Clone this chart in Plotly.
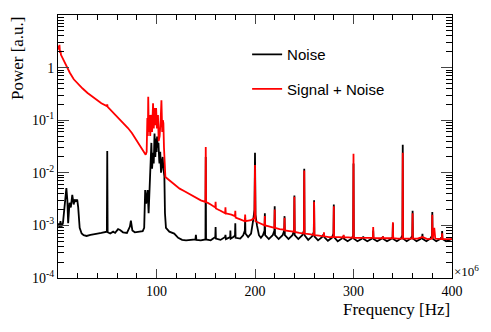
import plotly.graph_objects as go

# frequency in MHz (axis shows x10^6 Hz), power in a.u.
noise_freq = [
    0.5, 1.5, 2.5, 3.5, 5, 6.5, 8.5, 9.5, 10.3, 11.7, 13, 14.5, 15.9, 17, 18, 19.5, 20.5, 22,
    24, 26, 29, 33, 37, 40, 44, 47, 49.6, 50, 50.4, 53, 56, 58, 61, 63, 66, 70, 73, 74, 75.5,
    78, 82, 86, 87.5, 88.5, 89.5, 91, 92, 93, 94, 94.8, 95.5, 96.5, 97.2, 98, 98.8, 99.6,
    100.1, 100.6, 101.3, 102, 102.7, 103, 103.8, 104.6, 105.5, 106.3, 107, 108, 108.6, 109.6,
    113, 118, 122, 126, 130, 135, 139.5, 140, 140.5, 145, 149.7, 150, 150.3, 155, 158, 159.7,
    160, 160.3, 165, 168, 169.7, 170, 170.5, 174.8, 175, 175.3, 178, 179.7, 180, 180.3, 185,
    188, 189.7, 190, 190.3, 193, 196, 198, 199.5, 200, 200.5, 202, 204, 206, 208, 209.7, 210,
    210.3, 214, 218, 219.7, 220, 220.3, 224, 228, 229.7, 230, 230.3, 234, 238, 239.7, 240,
    240.3, 244, 248, 249.7, 250, 250.3, 254, 258, 259.7, 260, 260.3, 264, 268, 269.7, 270,
    270.3, 274, 278, 279.7, 280, 280.3, 284, 288, 289.7, 290, 290.3, 294, 298, 299.7, 300,
    300.3, 304, 308, 309.7, 310, 310.3, 314, 318, 319.7, 320, 320.3, 324, 328, 329.7, 330,
    330.3, 334, 338, 339.7, 340, 340.3, 344, 348, 349.7, 350, 350.3, 354, 358, 359.7, 360,
    360.3, 364, 368, 369.7, 370, 370.3, 374, 378, 379.7, 380, 380.3, 384, 388, 389.7, 390,
    390.3, 394, 398, 400,
]
noise_power = [
    0.0011, 0.0009, 0.0012, 0.00095, 0.0011, 0.002, 0.0051, 0.003, 0.0011, 0.0027, 0.0022,
    0.0038, 0.0025, 0.0031, 0.0029, 0.0031, 0.0022, 0.0009,
    0.0007, 0.00065, 0.00063, 0.00066, 0.00069, 0.0007, 0.00072, 0.00074, 0.00076, 0.026,
    0.00074, 0.0007, 0.00076, 0.00072, 0.00085, 0.00082, 0.00074, 0.00072, 0.00095, 0.00123,
    0.0008, 0.00074, 0.00076, 0.00078, 0.0009, 0.0047, 0.0026, 0.0047, 0.0017, 0.0072, 0.03,
    0.037, 0.012, 0.024, 0.015, 0.056, 0.02, 0.045, 0.025, 0.049, 0.03, 0.037, 0.018, 0.015,
    0.025, 0.01, 0.016, 0.02, 0.012, 0.0085, 0.0017, 0.0009,
    0.00076, 0.0007, 0.00058, 0.00053, 0.00052, 0.00053, 0.00054, 0.00066, 0.00053, 0.00052,
    0.00054, 0.02, 0.00054, 0.00052, 0.00058, 0.0006,
    0.00093, 0.00056, 0.00053, 0.00058, 0.0006, 0.00066, 0.00055, 0.0006, 0.0008, 0.00056,
    0.0006, 0.00065, 0.0011, 0.00058, 0.00056,
    0.00065, 0.0008, 0.0014, 0.0007, 0.0006, 0.0007, 0.0012, 0.002, 0.024, 0.0016, 0.001,
    0.00065, 0.00058, 0.00065, 0.0008, 0.0017,
    0.00065, 0.00055, 0.00065, 0.0008, 0.0023, 0.00065, 0.00055, 0.00065, 0.0008, 0.0015,
    0.00065, 0.00055, 0.00065, 0.0008, 0.0037,
    0.00065, 0.00055, 0.00065, 0.0008, 0.012, 0.00065, 0.00053, 0.00062, 0.00075, 0.003,
    0.00062, 0.00052, 0.0006, 0.00068, 0.0007,
    0.0006, 0.00051, 0.00058, 0.0007, 0.0025, 0.0006, 0.0005, 0.00056, 0.00062, 0.00062,
    0.00056, 0.0005, 0.00056, 0.00064, 0.015,
    0.00056, 0.0005, 0.00055, 0.0006, 0.0006, 0.00055, 0.0005, 0.00055, 0.0006, 0.0008,
    0.00055, 0.0005, 0.00055, 0.0006, 0.0006,
    0.00055, 0.0005, 0.00055, 0.0006, 0.0011, 0.00055, 0.0005, 0.00056, 0.00065, 0.034,
    0.00056, 0.0005, 0.00056, 0.00064, 0.0019,
    0.00056, 0.0005, 0.00055, 0.0006, 0.00069, 0.00055, 0.0005, 0.00056, 0.00064, 0.0018,
    0.00056, 0.0005, 0.00055, 0.0006, 0.00078,
    0.00055, 0.0005, 0.00054, 0.00055,
]

signal_freq = [
    0.5, 1, 1.5, 2, 2.5, 3, 4, 8, 12, 16, 19.6, 25, 30, 37, 44, 49.6, 50, 50.4, 56, 60.5, 66,
    71, 75, 79.6, 83, 86, 88, 89, 90, 90.7, 91.2, 91.6, 92.2, 93, 93.6, 94.8, 95.5, 96.5,
    97.2, 98.3, 99, 99.6, 100.4, 101.5, 102.2, 103.2, 104.2, 105, 105.8, 106.5, 107, 107.6,
    108.3, 109, 113, 118, 123.5, 128, 135, 140, 145, 149.7, 150, 150.3, 155, 159.7, 160,
    160.3, 165, 169.7, 170, 170.3, 176, 179.7, 180, 180.3, 185, 189.7, 190, 190.3, 196,
    199.5, 200, 200.5, 205, 209.7, 210, 210.3, 215, 219.7, 220, 220.3, 225, 229.7, 230,
    230.3, 235, 239.7, 240, 240.3, 245, 249.7, 250, 250.3, 255, 259.7, 260, 260.3, 265,
    269.7, 270, 270.3, 275, 279.7, 280, 280.3, 285, 289.7, 290, 290.3, 295, 299.7, 300,
    300.3, 305, 310, 315, 319.7, 320, 320.3, 325, 329.7, 330, 330.3, 335, 339.7, 340, 340.3,
    345, 349.7, 350, 350.3, 355, 359.7, 360, 360.3, 365, 370, 375, 379.7, 380, 380.3, 382,
    383, 389.7, 390, 390.3, 395, 400,
]
signal_power = [
    2.6, 2.2, 2.7, 1.9, 2.1, 1.75, 1.6, 1.1, 0.8, 0.6, 0.5, 0.4, 0.33, 0.26, 0.21, 0.185,
    0.2, 0.18, 0.14, 0.117, 0.092, 0.071, 0.057, 0.042, 0.034, 0.027, 0.024, 0.022, 0.025,
    0.11, 0.05, 0.28, 0.06, 0.126, 0.05, 0.126, 0.06, 0.21, 0.07, 0.17, 0.08, 0.17, 0.07,
    0.126, 0.04, 0.05, 0.1, 0.24, 0.06, 0.1, 0.087, 0.03, 0.011, 0.0083, 0.0072, 0.006,
    0.005, 0.0045, 0.0038, 0.0033, 0.003, 0.0028, 0.031, 0.0028, 0.0025, 0.0022, 0.0028,
    0.0021, 0.0019, 0.0017, 0.0022, 0.0017, 0.0016, 0.0015, 0.0019, 0.0014, 0.0013, 0.0012,
    0.0016, 0.0012, 0.00126, 0.0014, 0.014, 0.0012, 0.0011, 0.001, 0.0015, 0.001, 0.00095,
    0.0009, 0.002, 0.0009, 0.00085, 0.00083, 0.0014, 0.0008, 0.00078, 0.00076, 0.0035,
    0.00075, 0.00072, 0.0007, 0.011, 0.0007, 0.00068, 0.00066, 0.0028, 0.00065, 0.00064,
    0.00062, 0.00074, 0.00062, 0.0006, 0.0006, 0.0023, 0.0006, 0.0006, 0.00059, 0.00066,
    0.00059, 0.00059, 0.00058, 0.023, 0.00058, 0.00058, 0.00058, 0.00058, 0.00058, 0.00093,
    0.00058, 0.00057, 0.00057, 0.00062, 0.00057, 0.00057, 0.00057, 0.00115, 0.00057,
    0.00056, 0.00056, 0.024, 0.00056, 0.00056, 0.00056, 0.0017, 0.00056, 0.00056, 0.0006,
    0.00055, 0.00056, 0.0016, 0.00056, 0.0009, 0.00056, 0.00055, 0.00071, 0.00055, 0.00055,
    0.00055,
]

y_ticks = [1e-4, 1e-3, 1e-2, 1e-1, 1, 10]
y_ticktext = ["10<sup>-4</sup>", "10<sup>-3</sup>", "10<sup>-2</sup>", "10<sup>-1</sup>", "1", "10"]
x_ticks = [100, 200, 300, 400]

serif = "Liberation Serif"
sans = "Liberation Sans"

fig = go.Figure()
fig.add_trace(go.Scatter(x=noise_freq, y=noise_power, mode="lines", name="Noise",
                         line=dict(color="black", width=1.8), legendgroup="a"))
fig.add_trace(go.Scatter(x=signal_freq, y=signal_power, mode="lines", name="Signal + Noise",
                         line=dict(color="#ff0000", width=1.8), legendgroup="b"))

y_minor = [m * 10 ** e for e in range(-4, 1) for m in range(2, 10)]

fig.update_xaxes(range=[0, 400], tickvals=x_ticks, ticks="inside", ticklen=9,
                 showline=True, linecolor="black", linewidth=1, mirror="allticks",
                 showgrid=False, zeroline=False,
                 tickfont=dict(family=serif, size=14, color="black"),
                 minor=dict(ticks="inside", ticklen=5, dtick=20, tick0=0, tickcolor="black"))
fig.update_yaxes(type="log", range=[-4, 1], tickvals=y_ticks, ticktext=y_ticktext,
                 ticks="inside", ticklen=11, showline=True, linecolor="black", linewidth=1,
                 mirror="allticks", showgrid=False, zeroline=False,
                 tickfont=dict(family=serif, size=14, color="black"),
                 minor=dict(ticks="inside", ticklen=6, tickvals=y_minor, tickcolor="black"))

fig.add_annotation(text="Frequency [Hz]", xref="paper", yref="paper", x=1.0, y=-0.12,
                   xanchor="right", yanchor="middle", showarrow=False,
                   font=dict(family=serif, size=17, color="black"))
fig.add_annotation(text="Power [a.u.]", xref="paper", yref="paper", x=-0.104, y=1.0,
                   xanchor="center", yanchor="top", textangle=-90, showarrow=False,
                   borderpad=0, font=dict(family=serif, size=17, color="black"))
fig.add_annotation(text="×10<sup>6</sup>", xref="paper", yref="paper", x=1.0, y=0.025,
                   xanchor="left", yanchor="middle", showarrow=False,
                   font=dict(family=serif, size=13, color="black"))

fig.update_layout(
    width=491, height=332,
    margin=dict(l=50, r=47, t=7, b=62),
    paper_bgcolor="white", plot_bgcolor="white",
    legend=dict(x=0.48, y=0.912, xanchor="left", yanchor="top", bgcolor="rgba(0,0,0,0)",
                font=dict(family=sans, size=15, color="black"), tracegroupgap=12),
    showlegend=True,
)

fig.write_html("out.html")
